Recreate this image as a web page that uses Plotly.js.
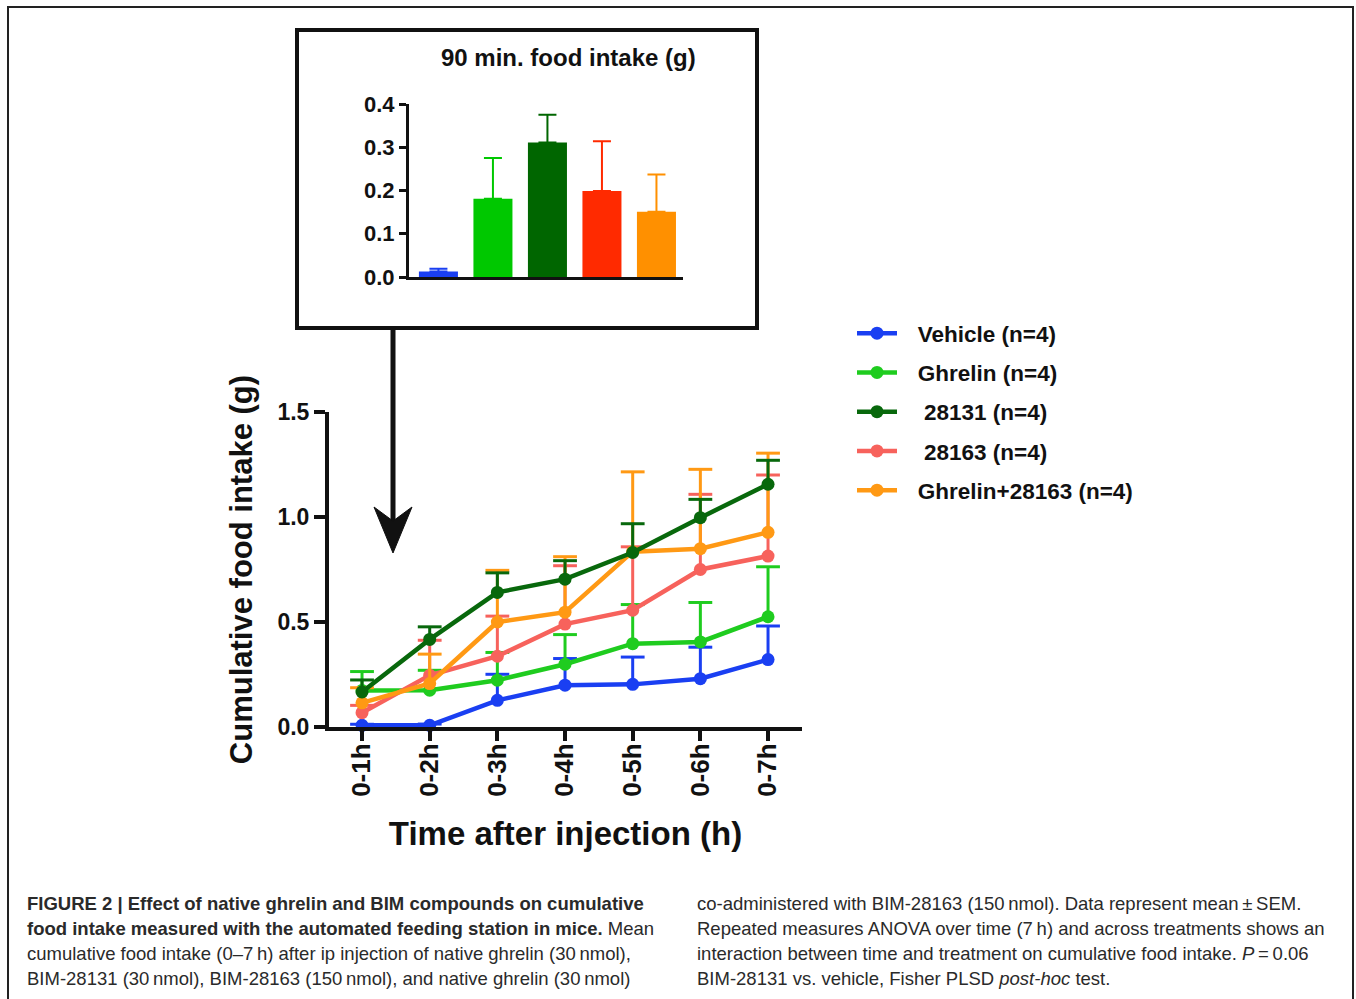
<!DOCTYPE html>
<html>
<head>
<meta charset="utf-8">
<script src="https://cdn.plot.ly/plotly-3.0.1.min.js"></script>
<style>html,body{margin:0;padding:0;background:#fff;}#chart{width:1356px;height:999px;}</style>
</head>
<body>
<div id="chart"></div>
<script>
// ---- Data ----
const timeLabels = ['0-1h', '0-2h', '0-3h', '0-4h', '0-5h', '0-6h', '0-7h'];

const vehicleMean = [0.008, 0.008, 0.127, 0.199, 0.203, 0.230, 0.321];
const vehicleSem  = [0.005, 0.006, 0.124, 0.127, 0.130, 0.150, 0.160];

const ghrelinMean = [0.174, 0.175, 0.223, 0.299, 0.397, 0.405, 0.525];
const ghrelinSem  = [0.090, 0.095, 0.132, 0.141, 0.186, 0.188, 0.238];

const c28131Mean = [0.167, 0.417, 0.641, 0.704, 0.831, 0.997, 1.156];
const c28131Sem  = [0.057, 0.060, 0.093, 0.088, 0.137, 0.087, 0.114];

const c28163Mean = [0.068, 0.246, 0.337, 0.490, 0.556, 0.750, 0.814];
const c28163Sem  = [0.035, 0.167, 0.191, 0.278, 0.302, 0.358, 0.386];

const comboMean = [0.115, 0.207, 0.500, 0.547, 0.835, 0.849, 0.927];
const comboSem  = [0.072, 0.140, 0.246, 0.264, 0.380, 0.378, 0.377];

const insetGroups = ['Vehicle', 'Ghrelin', '28131', '28163', 'Ghrelin+28163'];
const insetMean = [0.013, 0.181, 0.311, 0.199, 0.151];
const insetSem  = [0.006, 0.094, 0.064, 0.115, 0.086];

const legendNames = ['Vehicle (n=4)', 'Ghrelin (n=4)', '\u00a028131 (n=4)', '\u00a028163 (n=4)', 'Ghrelin+28163 (n=4)'];

// ---- Styling ----
const W = 1356, H = 999;
const px = x => x / W;
const py = y => 1 - y / H;
const lineColors = ['#1a3ff2', '#1fcc1f', '#08680c', '#f7625c', '#ff9914'];
const barColors  = ['#1a3ff2', '#00c800', '#006600', '#ff2a00', '#ff9000'];
const BOLD = {family: 'Liberation Sans, Arial, sans-serif', weight: 'bold', color: '#111'};
const legendPad = '\u2002\u2009';

const series = [
  {mean: vehicleMean, sem: vehicleSem, idx: 0},
  {mean: ghrelinMean, sem: ghrelinSem, idx: 1},
  {mean: c28131Mean, sem: c28131Sem, idx: 2},
  {mean: c28163Mean, sem: c28163Sem, idx: 3},
  {mean: comboMean, sem: comboSem, idx: 4}
];
// drawing order (dark green on top)
const drawOrder = [0, 1, 3, 4, 2];

const traces = [];
drawOrder.forEach(k => {
  const s = series[k];
  const c = lineColors[s.idx];
  traces.push({
    type: 'scatter', mode: 'lines+markers', x: timeLabels, y: s.mean,
    name: legendPad + legendNames[s.idx], legendgroup: 'g' + s.idx, legendrank: s.idx + 1,
    line: {color: c, width: 4.5}, marker: {color: c, size: 13},
    error_y: {type: 'data', symmetric: false, array: s.sem, arrayminus: s.sem.map(() => 0),
              width: 0, thickness: 3, color: c},
    cliponaxis: false, xaxis: 'x', yaxis: 'y'
  });
  // caps of the (upper) error bars
  traces.push({
    type: 'scatter', mode: 'markers', x: timeLabels, y: s.mean.map((m, i) => m + s.sem[i]),
    marker: {symbol: 'line-ew', size: 17, line: {color: c, width: 3}},
    showlegend: false, hoverinfo: 'skip', cliponaxis: false, xaxis: 'x', yaxis: 'y'
  });
});

// inset bar chart (one trace per bar so each error bar takes the bar colour)
insetGroups.forEach((g, i) => {
  traces.push({
    type: 'bar', x: [g], y: [insetMean[i]], xaxis: 'x2', yaxis: 'y2', showlegend: false,
    marker: {color: barColors[i], line: {width: 0}},
    error_y: {type: 'data', symmetric: false, array: [insetSem[i]], arrayminus: [0],
              width: 9, thickness: 2, color: barColors[i]},
    cliponaxis: false, hoverinfo: 'skip'
  });
});

const captionLeft = [
  '<b>FIGURE 2 | Effect of native ghrelin and BIM compounds on cumulative</b>',
  '<b>food intake measured with the automated feeding station in mice.</b> Mean',
  'cumulative food intake (0\u20137\u2009h) after ip injection of native ghrelin (30\u2009nmol),',
  'BIM-28131 (30\u2009nmol), BIM-28163 (150\u2009nmol), and native ghrelin (30\u2009nmol)'
];
const captionRight = [
  'co-administered with BIM-28163 (150\u2009nmol). Data represent mean\u2009\u00b1\u2009SEM.',
  'Repeated measures ANOVA over time (7\u2009h) and across treatments shows an',
  'interaction between time and treatment on cumulative food intake. <i>P</i>\u2009=\u20090.06',
  'BIM-28131 vs. vehicle, Fisher PLSD <i>post-hoc</i> test.'
];
const capY = [903, 928, 953, 978];
const capFont = {family: 'Liberation Sans, Arial, sans-serif', size: 18.5, color: '#2a2a2a'};
const annotations = [];
captionLeft.forEach((t, i) => annotations.push({
  xref: 'paper', yref: 'paper', x: px(25), y: py(capY[i]), xanchor: 'left', yanchor: 'middle',
  text: t, showarrow: false, font: capFont
}));
captionRight.forEach((t, i) => annotations.push({
  xref: 'paper', yref: 'paper', x: px(695), y: py(capY[i]), xanchor: 'left', yanchor: 'middle',
  text: t, showarrow: false, font: capFont
}));
annotations.push({
  xref: 'paper', yref: 'paper', x: px(568), y: py(57), xanchor: 'center', yanchor: 'middle',
  text: '90 min. food intake (g)', showarrow: false, font: Object.assign({size: 24}, BOLD)
});

const shapes = [
  // outer frame
  {type: 'rect', xref: 'paper', yref: 'paper', x0: px(8), x1: px(1353), y0: py(1010), y1: py(7),
   line: {color: '#222', width: 2}},
  // inset frame
  {type: 'rect', xref: 'paper', yref: 'paper', x0: px(297), x1: px(757), y0: py(328), y1: py(30),
   line: {color: '#111', width: 4}},
  // arrow shaft
  {type: 'line', xref: 'paper', yref: 'paper', x0: px(393), x1: px(393), y0: py(328), y1: py(522),
   line: {color: '#111', width: 5}},
  // arrow head
  {type: 'path', xref: 'paper', yref: 'paper',
   path: `M${px(374)},${py(507)} L${px(393)},${py(553)} L${px(412)},${py(507)} L${px(393)},${py(521)} Z`,
   fillcolor: '#111', line: {color: '#111', width: 1}}
];

const layout = {
  width: W, height: H,
  margin: {l: 0, r: 0, t: 0, b: 0},
  paper_bgcolor: '#ffffff', plot_bgcolor: 'rgba(0,0,0,0)',
  showlegend: true,
  legend: {
    x: px(852), y: py(312), xanchor: 'left', yanchor: 'top',
    font: Object.assign({size: 22.5}, BOLD), bgcolor: 'rgba(0,0,0,0)',
    traceorder: 'grouped', tracegroupgap: 7, itemwidth: 40
  },
  xaxis: {
    domain: [px(329), px(802)], anchor: 'y', type: 'category',
    range: [-0.488, 6.502], showgrid: false, zeroline: false,
    showline: true, linecolor: '#111', linewidth: 4,
    ticks: 'outside', ticklen: 10, tickwidth: 4, tickcolor: '#111',
    tickangle: -90, tickfont: Object.assign({size: 26}, BOLD), ticklabelstandoff: -8,
    title: {text: 'Time after injection (h)', font: Object.assign({size: 33}, BOLD), standoff: 27}
  },
  yaxis: {
    domain: [py(727), py(412)], anchor: 'x', range: [0, 1.5],
    tickvals: [0, 0.5, 1.0, 1.5], tickformat: '.1f',
    showgrid: false, zeroline: false,
    showline: true, linecolor: '#111', linewidth: 4,
    ticks: 'outside', ticklen: 11, tickwidth: 4, tickcolor: '#111',
    tickfont: Object.assign({size: 23}, BOLD),
    title: {text: 'Cumulative food intake (g)', font: Object.assign({size: 31}, BOLD), standoff: 17}
  },
  xaxis2: {
    domain: [px(409), px(683)], anchor: 'y2', type: 'category',
    range: [-0.54, 4.487], showgrid: false, zeroline: false,
    showline: true, linecolor: '#111', linewidth: 3,
    ticks: '', showticklabels: false
  },
  yaxis2: {
    domain: [py(277), py(104)], anchor: 'x2', range: [0, 0.4],
    tickvals: [0, 0.1, 0.2, 0.3, 0.4], tickformat: '.1f',
    showgrid: false, zeroline: false,
    showline: true, linecolor: '#111', linewidth: 3,
    ticks: 'outside', ticklen: 7, tickwidth: 3, tickcolor: '#111',
    tickfont: Object.assign({size: 22}, BOLD)
  },
  bargap: 0.284,
  barmode: 'overlay',
  annotations: annotations,
  shapes: shapes
};

Plotly.newPlot('chart', traces, layout, {displayModeBar: false, staticPlot: true});
</script>
</body>
</html>
